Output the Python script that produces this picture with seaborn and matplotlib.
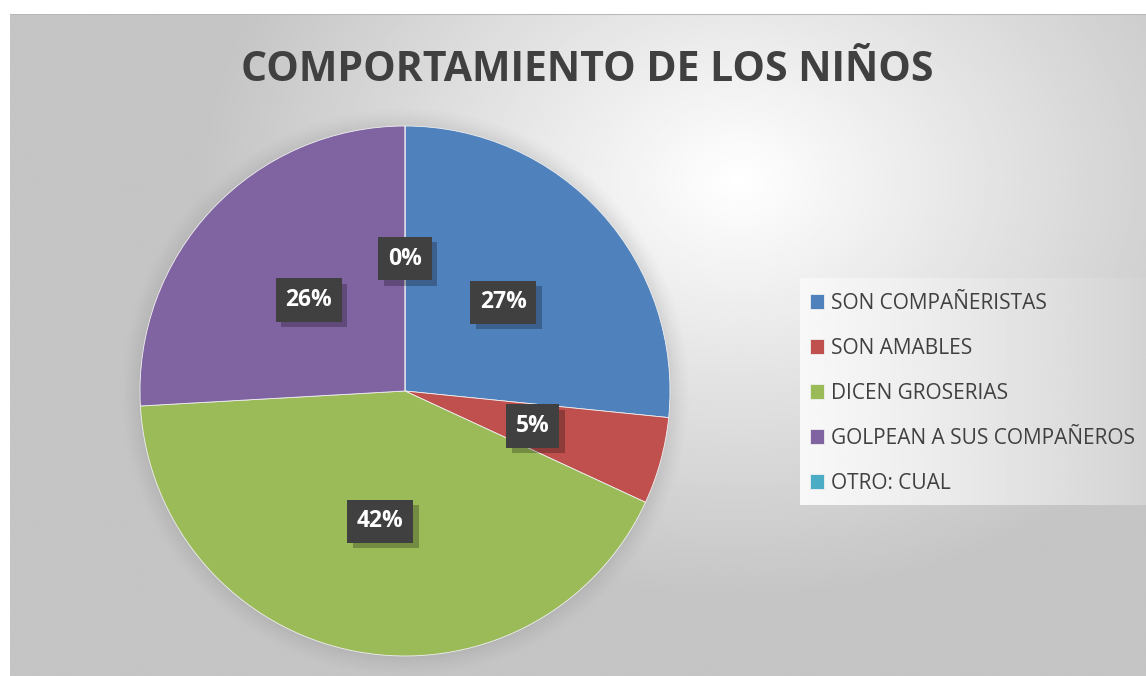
import numpy as np
import matplotlib
matplotlib.use("Agg")
import matplotlib.pyplot as plt
import matplotlib.patheffects as pe
import seaborn as sns

categories = ["SON COMPAÑERISTAS", "SON AMABLES", "DICEN GROSERIAS",
              "GOLPEAN A SUS COMPAÑEROS", "OTRO: CUAL"]
values = [26.6, 5.3, 42.2, 25.9, 0.0]
colors = ["#4F81BD", "#C0504D", "#9BBB59", "#8064A2", "#4BACC6"]
title = "COMPORTAMIENTO DE LOS NIÑOS"

sns.set_theme(style="white")
plt.rcParams['font.family'] = ['Open Sans', 'DejaVu Sans']

W, H = 1146, 676
fig = plt.figure(figsize=(W / 100, H / 100), dpi=100)
fig.patch.set_facecolor("white")

# background chart area with radial gradient
bg = fig.add_axes([10 / W, 0, (W - 10) / W, (H - 14) / H], zorder=-10)
ny, nx = 300, 500
yy, xx = np.mgrid[0:ny, 0:nx]
cx, cy = 0.64 * nx, 0.25 * ny
d = np.sqrt(((xx - cx) / nx) ** 2 + ((yy - cy) / ny * 0.75) ** 2)
g = np.clip(1.0 - 0.30 * d / 0.62, 0.77, 1.0)
bg.imshow(g, cmap="gray", vmin=0, vmax=1, aspect="auto", extent=[0, 1, 0, 1], origin="upper")
bg.axhline(1, color="#b8b8b8", lw=1.5)
bg.set_axis_off()

# legend background box
lb = fig.add_axes([800 / W, (H - 505) / H, (W - 800) / W, 227 / H], zorder=-5)
gx = np.linspace(0, 1, 200)
lg = np.tile(0.97 - 0.14 * gx ** 1.2, (10, 1))
lb.imshow(lg, cmap="gray", vmin=0, vmax=1, aspect="auto", extent=[0, 1, 0, 1])
lb.set_axis_off()

# pie
R = 265
pcx, pcy = 405, 391
ax = fig.add_axes([(pcx - R) / W, (H - pcy - R) / H, 2 * R / W, 2 * R / H])
ax.set_facecolor("none")
# soft shadow around pie
for k, a in zip(np.linspace(1.07, 1.0, 8), np.linspace(0.015, 0.05, 8)):
    ax.add_patch(plt.Circle((0.0, -0.005), k, color="#8a8a8a", alpha=a, lw=0,
                            zorder=0, clip_on=False))

wedges, texts, autotexts = ax.pie(
    values, colors=colors, startangle=90, counterclock=False,
    autopct="%1.0f%%", pctdistance=0.5, radius=1,
    wedgeprops=dict(linewidth=0.6, edgecolor="#f0f0f0", zorder=2),
    textprops=dict(color="white", fontsize=16.5, fontweight="bold"))
ax.set_xlim(-1, 1)
ax.set_ylim(-1, 1)
ax.set_aspect("equal")
ax.set_axis_off()

for t in autotexts:
    t.set_zorder(6)
    t.set_bbox(dict(boxstyle="square,pad=0.42", facecolor="#404040", edgecolor="none"))
    t.get_bbox_patch().set_path_effects([
        pe.SimplePatchShadow(offset=(4, -4), shadow_rgbFace="black", alpha=0.25),
        pe.Normal()])

fig.text(0.5127, 0.896, title, ha="center", va="center", fontsize=29.5,
         fontweight="bold", color="#404040")

leg = fig.legend(wedges, categories, loc="upper left", bbox_to_anchor=(791 / W, (H - 274) / H),
                 frameon=False, fontsize=15, labelcolor="#404040", handlelength=0.7,
                 handleheight=0.7, handletextpad=0.3, labelspacing=1.15)

fig.savefig("out.png", dpi=100)
